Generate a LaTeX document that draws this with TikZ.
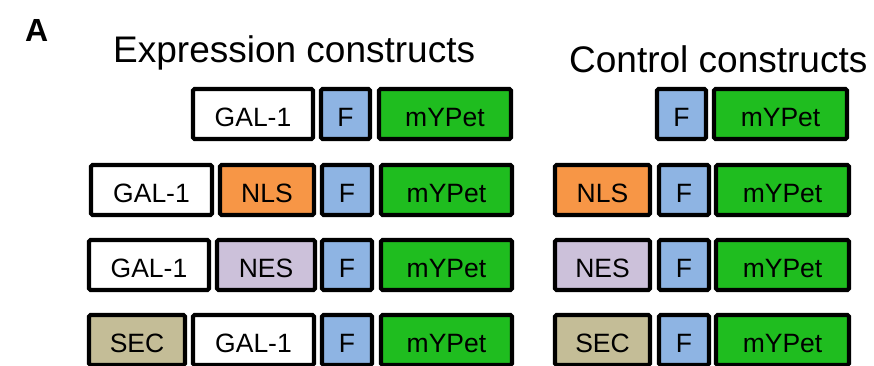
\documentclass[tikz,border=0pt]{standalone}
\usepackage{fontspec}
\setmainfont{Liberation Sans}
\definecolor{fblue}{HTML}{8EB4E3}
\definecolor{nlsor}{HTML}{F79646}
\definecolor{neslav}{HTML}{CCC1DA}
\definecolor{sectan}{HTML}{C4BD97}
\definecolor{ypgreen}{HTML}{1FBD1F}
\tikzset{
  blk/.style={draw=black, line width=4.2pt, rounded corners=1.5pt, inner sep=0pt,
    minimum height=50pt, text height=25.5pt, text depth=0pt,
    font=\fontsize{26.5}{30}\selectfont, anchor=center},
  galbox/.style={blk, fill=white},
  fbox/.style={blk, fill=fblue},
  nlsbox/.style={blk, fill=nlsor},
  nesbox/.style={blk, fill=neslav},
  secbox/.style={blk, fill=sectan},
  ypbox/.style={blk, fill=ypgreen},
  ttl/.style={inner sep=0pt, anchor=base west, font=\fontsize{37}{40}\selectfont}
}
\begin{document}
\begin{tikzpicture}[x=1pt,y=-1pt]
\useasboundingbox (0,0) rectangle (874,366);
\clip (0,0) rectangle (874,366);
\node[inner sep=0pt, anchor=base west, font=\fontsize{32}{34}\selectfont\bfseries] (lblA) at (25,42) {A};
\node[ttl] (t1) at (113,63) {Expression constructs};
\node[ttl] (t2) at (569,73) {Control constructs};
% Expression row 1
\node[galbox, minimum width=120pt] (e1g) at (253,114) {GAL-1};
\node[fbox, minimum width=49pt] (e1f) at (345.5,114) {F};
\node[ypbox, minimum width=132pt] (e1m) at (445,114) {mYPet};
% row 2
\node[galbox, minimum width=121pt] (e2g) at (151.5,190) {GAL-1};
\node[nlsbox, minimum width=94pt] (e2n) at (267,190) {NLS};
\node[fbox, minimum width=50pt] (e2f) at (347,190) {F};
\node[ypbox, minimum width=131pt] (e2m) at (446.5,190) {mYPet};
% row 3
\node[galbox, minimum width=120pt] (e3g) at (149,265) {GAL-1};
\node[nesbox, minimum width=98pt] (e3n) at (266,265) {NES};
\node[fbox, minimum width=50pt] (e3f) at (347,265) {F};
\node[ypbox, minimum width=131pt] (e3m) at (446.5,265) {mYPet};
% row 4
\node[secbox, minimum width=96pt] (e4s) at (137,340) {SEC};
\node[galbox, minimum width=121pt] (e4g) at (253.5,340) {GAL-1};
\node[fbox, minimum width=50pt] (e4f) at (347,340) {F};
\node[ypbox, minimum width=131pt] (e4m) at (446.5,340) {mYPet};
% Control
\node[fbox, minimum width=49pt] (c1f) at (681.5,114) {F};
\node[ypbox, minimum width=133pt] (c1m) at (780.5,114) {mYPet};
\node[nlsbox, minimum width=95pt] (c2n) at (602.5,190) {NLS};
\node[fbox, minimum width=50pt] (c2f) at (684,190) {F};
\node[ypbox, minimum width=133pt] (c2m) at (782.5,190) {mYPet};
\node[nesbox, minimum width=95pt] (c3n) at (602.5,265) {NES};
\node[fbox, minimum width=50pt] (c3f) at (684,265) {F};
\node[ypbox, minimum width=133pt] (c3m) at (782.5,265) {mYPet};
\node[secbox, minimum width=95pt] (c4s) at (602.5,340) {SEC};
\node[fbox, minimum width=50pt] (c4f) at (684,340) {F};
\node[ypbox, minimum width=133pt] (c4m) at (782.5,340) {mYPet};
\end{tikzpicture}
\end{document}
